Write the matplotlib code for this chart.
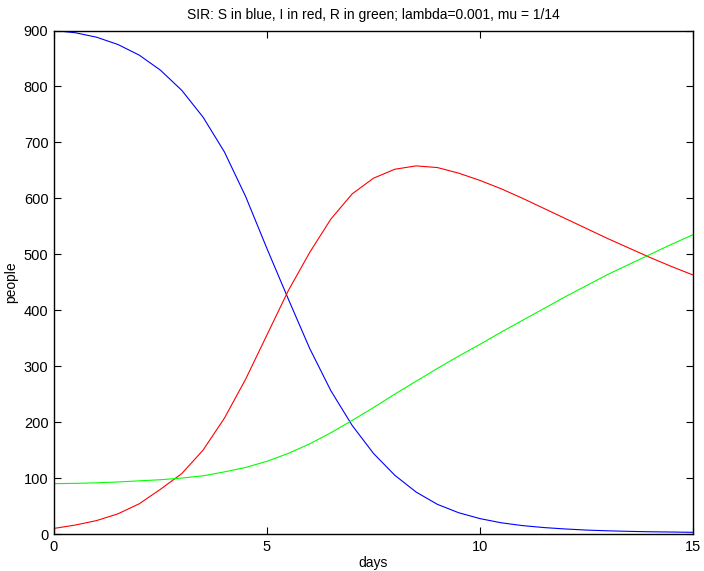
import matplotlib
matplotlib.use('Agg')
import matplotlib.pyplot as plt

plt.rcParams['font.family'] = ['Liberation Sans', 'DejaVu Sans']

days = [0, 0.5, 1, 1.5, 2, 2.5, 3, 3.5, 4, 4.5, 5, 5.5, 6, 6.5, 7, 7.5,
        8, 8.5, 9, 9.5, 10, 10.5, 11, 11.5, 12, 12.5, 13, 13.5, 14, 14.5, 15]

S = [900, 896, 888, 875, 856, 829, 793, 745, 683, 603, 510, 420, 332, 256,
     194, 144, 105, 75, 53, 38, 27.5, 20, 15, 11.5, 9, 7, 5.7, 4.7, 4, 3.5, 3]

I = [10, 16, 24, 36, 54, 80, 108, 150, 207, 277, 356, 435, 503, 563, 608,
     636, 652, 658, 655, 645, 632, 617, 600, 582, 564, 546, 528, 511, 494,
     478, 463]

R = [90, 90.5, 91.5, 93, 95, 97, 100, 104, 111, 119, 130, 144, 161, 181,
     203, 226, 250, 273, 296, 318, 339, 361, 382, 403, 424, 444, 464, 482,
     500, 518, 535]

xticks = [0, 5, 10, 15]
yticks = list(range(0, 1000, 100))

fig = plt.figure(figsize=(7.04, 5.71), dpi=100)
ax = fig.add_axes([54 / 704, 37 / 571, 639 / 704, 503.5 / 571])

ax.plot(days, S, color=(0, 0, 1), lw=0.8)
ax.plot(days, I, color=(1, 0, 0), lw=0.8)
ax.plot(days, R, color=(0, 1, 0), lw=0.8)

ax.set_xlim(0, 15)
ax.set_ylim(0, 900)
ax.set_xticks(xticks)
ax.set_yticks(yticks)
ax.tick_params(direction='in', top=True, right=True, length=5, width=0.8,
               labelsize=10.5, pad=4)
for sp in ax.spines.values():
    sp.set_linewidth(1.0)

ax.set_title('SIR: S in blue, I in red, R in green; lambda=0.001, mu = 1/14',
             fontsize=10, pad=8)
ax.set_xlabel('days', fontsize=10, labelpad=2)
ax.set_ylabel('people', fontsize=10, labelpad=4)

fig.savefig('out.png', dpi=100)
